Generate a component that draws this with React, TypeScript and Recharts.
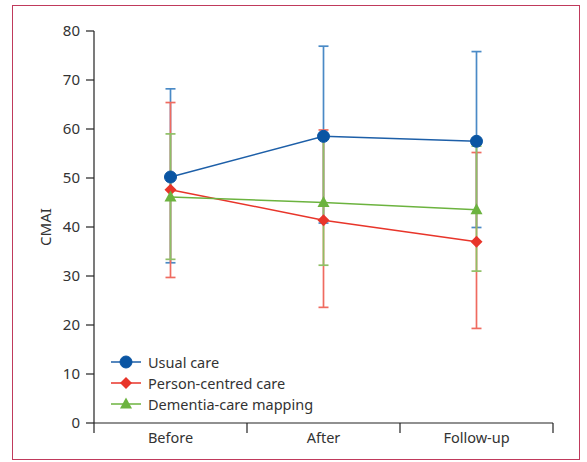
import React from 'react';
import { LineChart, Line, XAxis, YAxis, ErrorBar, Legend } from 'recharts';

const categories = ['Before', 'After', 'Follow-up'];
const usualMean = [50.2, 58.5, 57.5];
const usualLow = [32.7, 40.8, 39.9];
const usualHigh = [68.2, 76.9, 75.8];
const personMean = [47.6, 41.4, 37.0];
const personLow = [29.7, 23.6, 19.3];
const personHigh = [65.4, 59.8, 55.2];
const dcmMean = [46.1, 45.0, 43.5];
const dcmLow = [33.4, 32.2, 31.0];
const dcmHigh = [59.0, 58.3, 56.5];
const yTicks = [0, 10, 20, 30, 40, 50, 60, 70, 80];
const seriesNames = ['Usual care', 'Person-centred care', 'Dementia-care mapping'];

const BLUE = '#0a55a3';
const BLUE_LINE = '#1d5fa8';
const BLUE_ERR = '#4a8ac6';
const RED = '#e8352a';
const RED_ERR = '#ef6b60';
const GREEN = '#6cb33f';
const GREEN_ERR = '#8fbf65';
const FONT = '"Noto Sans", sans-serif';
const TEXT = '#333333';

const data = categories.map((c, i) => ({
  x: i + 0.5,
  name: c,
  usual: usualMean[i],
  usualErr: [usualMean[i] - usualLow[i], usualHigh[i] - usualMean[i]],
  person: personMean[i],
  personErr: [personMean[i] - personLow[i], personHigh[i] - personMean[i]],
  dcm: dcmMean[i],
  dcmErr: [dcmMean[i] - dcmLow[i], dcmHigh[i] - dcmMean[i]],
}));

const xTicks: number[] = [];
for (let i = 0; i <= categories.length; i++) {
  xTicks.push(i);
  if (i < categories.length) xTicks.push(i + 0.5);
}

const XTick = (props: any) => {
  const { x, y, payload } = props;
  const v = payload.value;
  if (Number.isInteger(v)) {
    return <line x1={x} x2={x} y1={y - 10} y2={y} stroke="#222" strokeWidth={1.2} />;
  }
  return (
    <text x={x} y={y} dy="0.72em" textAnchor="middle" fill={TEXT} fontSize={14.5} fontFamily={FONT}>
      {categories[Math.floor(v)]}
    </text>
  );
};

const circleShape = (cx: number, cy: number, color: string, k?: any) => (
  <circle key={k} cx={cx} cy={cy} r={6} fill={color} stroke={color} />
);
const diamondShape = (cx: number, cy: number, color: string, k?: any) => (
  <polygon key={k} points={`${cx},${cy - 6} ${cx + 6},${cy} ${cx},${cy + 6} ${cx - 6},${cy}`} fill={color} />
);
const triangleShape = (cx: number, cy: number, color: string, k?: any) => (
  <polygon key={k} points={`${cx},${cy - 6.5} ${cx + 6},${cy + 4.5} ${cx - 6},${cy + 4.5}`} fill={color} />
);

const legendItems = [
  { name: seriesNames[0], color: BLUE, line: BLUE_LINE, shape: circleShape },
  { name: seriesNames[1], color: RED, line: RED, shape: diamondShape },
  { name: seriesNames[2], color: GREEN, line: GREEN, shape: triangleShape },
];

const LegendContent = () => (
  <div>
    {legendItems.map((it) => (
      <div key={it.name} style={{ display: 'flex', alignItems: 'center', height: 20.7 }}>
        <svg width={32} height={16} style={{ display: 'block' }}>
          <line x1={1} x2={31} y1={8} y2={8} stroke={it.line} strokeWidth={1.5} />
          {it.shape(16, 8, it.color)}
        </svg>
        <span style={{ marginLeft: 6, fontFamily: FONT, fontSize: 14.5, color: TEXT, whiteSpace: 'nowrap' }}>{it.name}</span>
      </div>
    ))}
  </div>
);

export default function App() {
  return (
    <div style={{ position: 'absolute', left: 0, top: 0, width: 587, height: 462 }}>
      <div
        style={{
          position: 'absolute',
          left: 12,
          top: 5,
          width: 568,
          height: 455,
          border: '1px solid #c03a5c',
          boxSizing: 'border-box',
        }}
      />
      <div style={{ position: 'absolute', left: 0, top: 0 }}>
        <LineChart width={587} height={462} data={data} margin={{ top: 31, right: 34, left: 0, bottom: 9 }}>
          <XAxis
            dataKey="x"
            type="number"
            domain={[0, categories.length]}
            ticks={xTicks}
            interval={0}
            tickLine={false}
            tickSize={10}
            tickMargin={0}
            height={30}
            axisLine={{ stroke: '#222', strokeWidth: 1.2 }}
            tick={<XTick />}
          />
          <YAxis
            type="number"
            domain={[0, 80]}
            ticks={yTicks}
            interval={0}
            width={94}
            tickSize={8}
            tickMargin={6}
            axisLine={{ stroke: '#222', strokeWidth: 1.2 }}
            tickLine={{ stroke: '#222', strokeWidth: 1.2 }}
            tick={{ fill: TEXT, fontSize: 15, fontFamily: FONT }}
            label={{ value: 'CMAI', angle: -90, position: 'insideLeft', offset: 46, style: { textAnchor: 'middle', fill: TEXT, fontSize: 15, fontFamily: FONT } }}
          />
          <Line dataKey="usual" stroke="none" dot={false} activeDot={false} legendType="none" isAnimationActive={false}>
            <ErrorBar dataKey="usualErr" width={5} stroke={BLUE_ERR} strokeWidth={1.7} direction="y" />
          </Line>
          <Line dataKey="person" stroke="none" dot={false} activeDot={false} legendType="none" isAnimationActive={false}>
            <ErrorBar dataKey="personErr" width={5} stroke={RED_ERR} strokeWidth={1.7} direction="y" />
          </Line>
          <Line dataKey="dcm" stroke="none" dot={false} activeDot={false} legendType="none" isAnimationActive={false}>
            <ErrorBar dataKey="dcmErr" width={5} stroke={GREEN_ERR} strokeWidth={1.7} direction="y" />
          </Line>
          <Line
            dataKey="usual"
            name={seriesNames[0]}
            stroke={BLUE_LINE}
            strokeWidth={1.5}
            isAnimationActive={false}
            dot={(p: any) => circleShape(p.cx, p.cy, BLUE, `u${p.index}`)}
            activeDot={false}
          />
          <Line
            dataKey="person"
            name={seriesNames[1]}
            stroke={RED}
            strokeWidth={1.5}
            isAnimationActive={false}
            dot={(p: any) => diamondShape(p.cx, p.cy, RED, `p${p.index}`)}
            activeDot={false}
          />
          <Line
            dataKey="dcm"
            name={seriesNames[2]}
            stroke={GREEN}
            strokeWidth={1.5}
            isAnimationActive={false}
            dot={(p: any) => triangleShape(p.cx, p.cy, GREEN, `d${p.index}`)}
            activeDot={false}
          />
          <Legend
            layout="vertical"
            align="center"
            verticalAlign="middle"
            content={<LegendContent />}
            wrapperStyle={{ left: 110, top: 352, width: 'auto', height: 'auto' }}
          />
        </LineChart>
      </div>
    </div>
  );
}
